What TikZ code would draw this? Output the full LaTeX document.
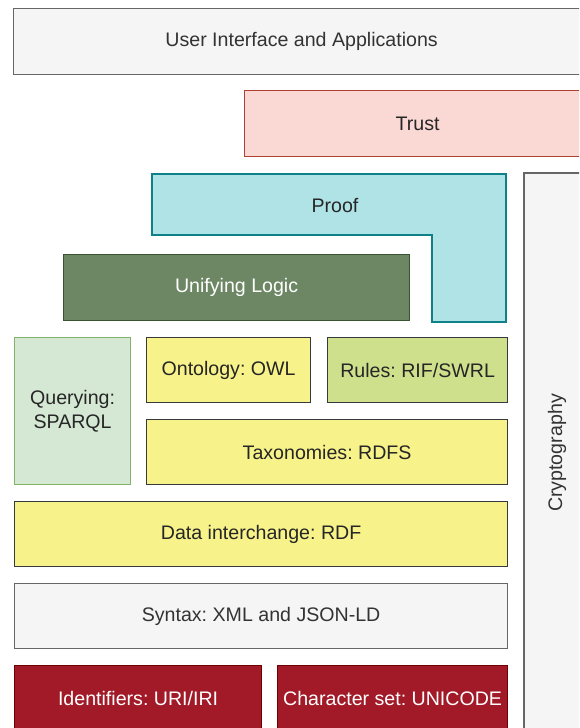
\documentclass[tikz,border=0pt]{standalone}
\usepackage{fontspec}
\setmainfont{Liberation Sans}
\definecolor{greyfill}{HTML}{F5F5F5}
\definecolor{greyline}{HTML}{666666}
\definecolor{greytext}{HTML}{333333}
\definecolor{trustfill}{HTML}{FAD9D5}
\definecolor{trustline}{HTML}{AE4132}
\definecolor{prooffill}{HTML}{B0E3E6}
\definecolor{proofline}{HTML}{0E8088}
\definecolor{logicfill}{HTML}{6D8764}
\definecolor{logicline}{HTML}{3A5431}
\definecolor{queryfill}{HTML}{D5E8D4}
\definecolor{queryline}{HTML}{82B366}
\definecolor{yellowfill}{HTML}{F7F28A}
\definecolor{darkline}{HTML}{36393D}
\definecolor{rulesfill}{HTML}{CFE08C}
\definecolor{redfill}{HTML}{A21A28}
\definecolor{redline}{HTML}{6F0000}
\frenchspacing
\begin{document}
\begin{tikzpicture}[x=1pt,y=-1pt,
  box/.style={draw, line width=1.2pt, anchor=north west, inner sep=0pt,
    font=\fontsize{19.6}{24}\selectfont, align=center},
  greybox/.style={box, fill=greyfill, draw=greyline, text=greytext},
  yellowbox/.style={box, fill=yellowfill, draw=darkline, text=black!85},
  redbox/.style={box, fill=redfill, draw=redline, text=white}]
\clip (0,0) rectangle (579,728);
\fill[white] (0,0) rectangle (579,728);

\node[greybox, minimum width=576, minimum height=66] (ui) at (13,8) {User Interface and Applications};
\node[box, fill=trustfill, draw=trustline, text=black!85, minimum width=346, minimum height=66] (trust) at (244,90) {Trust};

\draw[line width=1.2pt, draw=proofline, fill=prooffill]
  (152,174) -- (506,174) -- (506,322) -- (432,322) -- (432,235) -- (152,235) -- cycle;
\node[font=\fontsize{19.6}{24}\selectfont, text=black!85] (proof) at (335,206) {Proof};

\node[box, fill=logicfill, draw=logicline, text=white, minimum width=346, minimum height=66] (logic) at (63,254) {Unifying Logic};

\node[greybox, minimum width=560, minimum height=66, rotate=90, anchor=center] (crypto) at (557,453) {Cryptography};

\node[box, fill=queryfill, draw=queryline, text=black!85, minimum width=116, minimum height=147] (query) at (14,337) {Querying:\\SPARQL};
\node[yellowbox, minimum width=164, minimum height=65] (owl) at (146,337) {Ontology: OWL};
\node[box, fill=rulesfill, draw=darkline, text=black!85, minimum width=180, minimum height=65] (rules) at (327,337) {Rules: RIF/SWRL};
\node[yellowbox, minimum width=361, minimum height=65] (rdfs) at (146,419) {Taxonomies: RDFS};
\node[yellowbox, minimum width=493, minimum height=65] (rdf) at (14,501) {Data interchange: RDF};
\node[greybox, minimum width=493, minimum height=65] (syntax) at (14,583) {Syntax: XML and JSON-LD};
\node[redbox, minimum width=247, minimum height=66] (uri) at (14,665) {Identifiers: URI/IRI};
\node[redbox, minimum width=230, minimum height=66] (unicode) at (277,665) {Character set: UNICODE};
\end{tikzpicture}
\end{document}
